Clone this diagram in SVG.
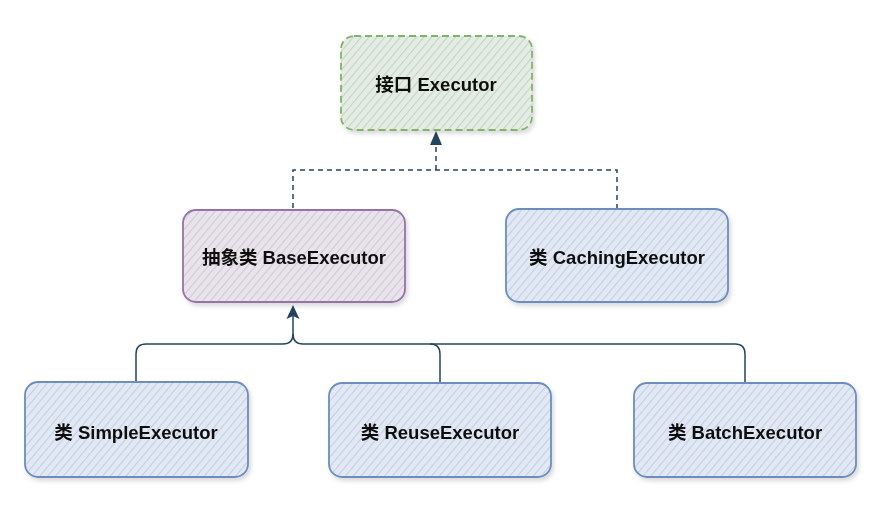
<svg xmlns="http://www.w3.org/2000/svg" width="894" height="514" viewBox="0 0 894 514">
<style>
.lbl{font-family:"Liberation Sans","Noto Sans CJK SC",sans-serif;font-weight:bold;font-size:18.5px;fill:#111;text-anchor:middle;dominant-baseline:central}
.edge{fill:none;stroke:#23445d;stroke-width:1.5}
.dash{stroke-dasharray:5 4}
.box{stroke-width:1.8}
.green{fill:url(#hG);stroke:#82b366;stroke-dasharray:7 4}
.purple{fill:url(#hP);stroke:#9673a6}
.blue{fill:url(#hB);stroke:#6c8ebf}
</style>
<defs>
<pattern id="hG" patternUnits="userSpaceOnUse" width="6" height="6" patternTransform="rotate(40)">
<rect width="6" height="6" fill="#e4ede3"/><line x1="0" y1="0" x2="0" y2="6" stroke="#c8d2c7" stroke-width="2.2"/>
</pattern>
<pattern id="hP" patternUnits="userSpaceOnUse" width="6" height="6" patternTransform="rotate(40)">
<rect width="6" height="6" fill="#e9e3ec"/><line x1="0" y1="0" x2="0" y2="6" stroke="#cfcad3" stroke-width="2.2"/>
</pattern>
<pattern id="hB" patternUnits="userSpaceOnUse" width="6" height="6" patternTransform="rotate(40)">
<rect width="6" height="6" fill="#e1e9f6"/><line x1="0" y1="0" x2="0" y2="6" stroke="#c9cfd9" stroke-width="2.2"/>
</pattern>
<filter id="sh" x="-10%" y="-10%" width="130%" height="140%">
<feDropShadow dx="2" dy="3" stdDeviation="2" flood-color="#000" flood-opacity="0.15"/>
</filter>
</defs>
<g id="connectors">
<path class="edge dash" d="M293,208 V170 H617 V208"/>
<path class="edge dash" d="M436,170 V146"/>
<path d="M436,131 L442,145 L430,145 Z" fill="#23445d"/>
<path class="edge" d="M136,382 V354 Q136,344 146,344 H283 Q293,344 293,334 V316"/>
<path class="edge" d="M745,383 V354 Q745,344 735,344 H303 Q293,344 293,334"/>
<path class="edge" d="M440,383 V354 Q440,344 430,344"/>
<path d="M293,305 L299.5,319 L293,316 L286.5,319 Z" fill="#23445d"/>
</g>
<g id="node-executor" filter="url(#sh)">
<rect class="box green" x="341" y="36" width="191" height="94" rx="13"/>
<text class="lbl" x="436" y="84">接口 Executor</text>
</g>
<g id="node-base" filter="url(#sh)">
<rect class="box purple" x="183" y="210" width="222" height="92" rx="13"/>
<text class="lbl" x="294" y="257">抽象类 BaseExecutor</text>
</g>
<g id="node-caching" filter="url(#sh)">
<rect class="box blue" x="506" y="209" width="222" height="93" rx="13"/>
<text class="lbl" x="617" y="257">类 CachingExecutor</text>
</g>
<g id="node-simple" filter="url(#sh)">
<rect class="box blue" x="25" y="382" width="223" height="95" rx="13"/>
<text class="lbl" x="136" y="432">类 SimpleExecutor</text>
</g>
<g id="node-reuse" filter="url(#sh)">
<rect class="box blue" x="329" y="383" width="222" height="94" rx="13"/>
<text class="lbl" x="440" y="432">类 ReuseExecutor</text>
</g>
<g id="node-batch" filter="url(#sh)">
<rect class="box blue" x="634" y="383" width="222" height="94" rx="13"/>
<text class="lbl" x="745" y="432">类 BatchExecutor</text>
</g>
</svg>
